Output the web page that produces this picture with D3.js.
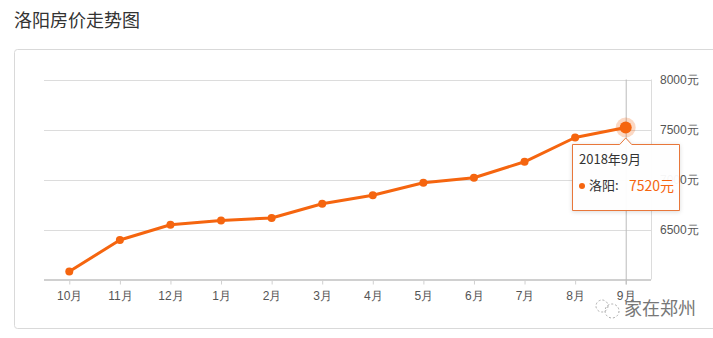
<!DOCTYPE html>
<html>
<head>
<meta charset="utf-8">
<script src="https://cdn.jsdelivr.net/npm/d3@7"></script>
<style>
    body { margin: 0; background: #fff; }
    svg { display: block; font-family: "Microsoft YaHei", "Noto Sans CJK SC", sans-serif; }
</style>
</head>
<body>
<svg id="chart" width="713" height="338"></svg>
<script>
// chart data
var months = ["10月", "11月", "12月", "1月", "2月", "3月", "4月", "5月", "6月", "7月", "8月", "9月"]
var prices = [6080, 6395, 6548, 6590, 6615, 6757, 6843, 6967, 7018, 7177, 7420, 7520]
var yTicks = [6500, 7000, 7500, 8000]
var title = "洛阳房价走势图"
var cityName = "洛阳"
var tipDate = "2018年9月"

var orange = "#f5650f"
var svg = d3.select("#chart")

// title + panel
svg.append("text").attr("x", 14).attr("y", 27).attr("font-size", 18).attr("fill", "#333").text(title)
svg.append("rect").attr("x", 14.5).attr("y", 49.5).attr("width", 712).attr("height", 279)
    .attr("rx", 3).attr("fill", "#fff").attr("stroke", "#d9d9d9")

var plotLeft = 44, plotRight = 651, plotTop = 79.5, plotBottom = 279.5

var x = d3.scalePoint().domain(months).range([plotLeft, plotRight]).padding(0.5)
var y = d3.scaleLinear().domain([6000, 8000]).range([plotBottom, plotTop])

// gridlines
svg.append("g").selectAll("line").data(yTicks).enter().append("line")
    .attr("x1", plotLeft).attr("x2", plotRight)
    .attr("y1", d => Math.round(y(d)) + 0.5).attr("y2", d => Math.round(y(d)) + 0.5)
    .attr("stroke", "#dcdcdc")

// right border of plot
svg.append("line").attr("x1", plotRight + 0.5).attr("x2", plotRight + 0.5).attr("y1", plotTop).attr("y2", plotBottom)
    .attr("stroke", "#dcdcdc")

// y labels on the right
var yAxis = d3.axisRight(y).tickValues(yTicks).tickSize(0).tickPadding(9).tickFormat(d => d + "元")
var gy = svg.append("g").attr("transform", `translate(${plotRight},0)`).call(yAxis)
gy.select(".domain").remove()
gy.selectAll("text").attr("font-size", 12).attr("fill", "#555").attr("font-family", "inherit")

// x axis
var xAxis = d3.axisBottom(x).tickSize(5).tickPadding(7)
var gx = svg.append("g").attr("transform", `translate(0,${plotBottom})`).call(xAxis)
gx.select(".domain").attr("d", `M${plotLeft},0.5H${plotRight}`).attr("stroke", "#d0d0d0").attr("stroke-width", 2)
gx.selectAll(".tick line").attr("stroke", "#d0d0d0")
gx.selectAll("text").attr("font-size", 12).attr("fill", "#555").attr("font-family", "inherit")

// crosshair at the last month
var last = months.length - 1
var cx = x(months[last])
svg.append("line").attr("x1", cx + 0.5).attr("x2", cx + 0.5).attr("y1", plotTop).attr("y2", plotBottom + 5)
    .attr("stroke", "#bbb")

// line + dots
var line = d3.line().x((d, i) => x(months[i])).y(d => y(d))
svg.append("path").datum(prices).attr("d", line).attr("fill", "none")
    .attr("stroke", orange).attr("stroke-width", 3).attr("stroke-linejoin", "round")
svg.append("g").selectAll("circle").data(prices).enter().append("circle")
    .attr("cx", (d, i) => x(months[i])).attr("cy", d => y(d)).attr("r", 4).attr("fill", orange)

// highlighted point
var cy = y(prices[last])
svg.append("circle").attr("cx", cx).attr("cy", cy).attr("r", 10).attr("fill", orange).attr("opacity", 0.25)
svg.append("circle").attr("cx", cx).attr("cy", cy).attr("r", 6).attr("fill", orange)

// tooltip
var tx = 572, ty = 144, tw = 107, th = 66
var tip = svg.append("g")
tip.append("path")
    .attr("d", `M${tx + 0.5},${ty + 0.5}H${cx - 6}L${cx},${ty - 6}L${cx + 6},${ty + 0.5}H${tx + tw + 0.5}V${ty + th + 0.5}H${tx + 0.5}Z`)
    .attr("fill", "#fff").attr("fill-opacity", 0.95).attr("stroke", "#e8773a")
    .style("filter", "drop-shadow(0 1px 2px rgba(0,0,0,0.15))")
tip.append("text").attr("x", tx + 7).attr("y", ty + 20).attr("font-size", 13).attr("fill", "#333").text(tipDate)
tip.append("circle").attr("cx", tx + 10).attr("cy", ty + 42).attr("r", 3).attr("fill", orange)
tip.append("text").attr("x", tx + 17).attr("y", ty + 46).attr("font-size", 13).attr("fill", "#333").text(cityName + ":")
tip.append("text").attr("x", tx + 57).attr("y", ty + 47).attr("font-size", 14).attr("fill", orange).text(prices[last] + "元")

// watermark
var wm = svg.append("g").attr("fill", "none").attr("stroke", "#aaa").attr("stroke-dasharray", "2,2")
wm.append("circle").attr("cx", 602).attr("cy", 306).attr("r", 6)
wm.append("circle").attr("cx", 612).attr("cy", 311).attr("r", 7)
svg.append("text").attr("x", 624).attr("y", 315).attr("font-size", 18).attr("fill", "#777").text("家在郑州")
</script>
</body>
</html>
